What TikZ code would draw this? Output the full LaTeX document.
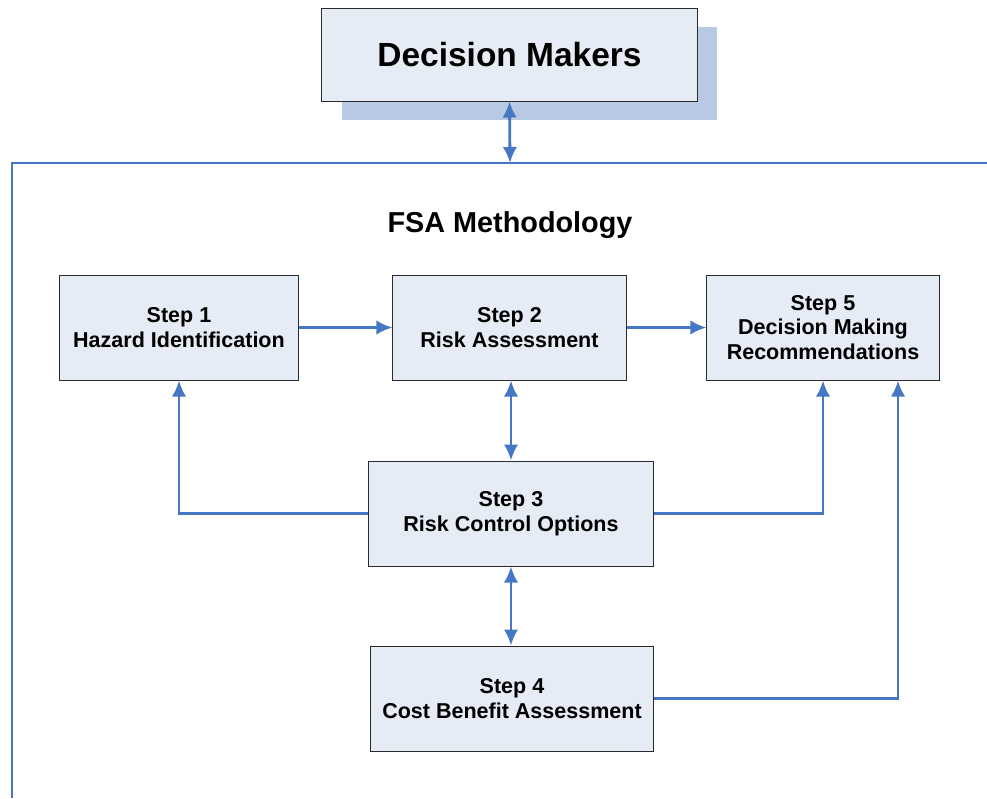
\documentclass[tikz,border=0pt]{standalone}
\usepackage{fontspec}
\setmainfont{Liberation Sans}
\usepackage{tikz}
\usetikzlibrary{arrows.meta}
\usetikzlibrary{shadows}
\definecolor{boxfill}{HTML}{E6ECF6}
\definecolor{shadowblue}{HTML}{B8C9E3}
\definecolor{linkblue}{HTML}{4677C4}
\definecolor{framedark}{HTML}{2A2A2A}
\tikzstyle{stepbox} = [rectangle, draw=framedark, line width=0.7pt, fill=boxfill,
    align=center, font=\fontsize{15.3}{17.5}\selectfont\bfseries, inner sep=0pt]
\tikzstyle{link} = [draw=linkblue, line width=2pt]
\tikzset{>={Latex[length=4mm,width=3.6mm]}}

\begin{document}
\begin{tikzpicture}[x=0.025cm,y=-0.025cm]
    \useasboundingbox (0,0) rectangle (987,798);
    %decision makers
    \node[stepbox, minimum width=9.375cm, minimum height=2.325cm,
        font=\fontsize{23.8}{28}\selectfont\bfseries,
        drop shadow={shadow xshift=0.5cm, shadow yshift=-0.475cm, fill=shadowblue, opacity=1}]
        (dm) at (509.5,54.5) {Decision Makers};
    %frame
    \coordinate (fl) at (12,798);
    \coordinate (ftl) at (12,163);
    \coordinate (ftr) at (987,163);
    \coordinate (ftop) at (510,163);
    \draw[draw=linkblue, line width=1.5pt] (fl) -- (ftl) -- (ftr);
    \node[font=\fontsize{20.5}{24}\selectfont\bfseries] (title) at (510,225) {FSA Methodology};
    %steps
    \node[stepbox, minimum width=5.95cm, minimum height=2.625cm] (s1) at (179,327.5) {Step 1\\Hazard Identification};
    \node[stepbox, minimum width=5.825cm, minimum height=2.625cm] (s2) at (509.5,327.5) {Step 2\\Risk Assessment};
    \node[stepbox, minimum width=5.8cm, minimum height=2.625cm] (s5) at (823,327.5) {Step 5\\Decision Making\\Recommendations};
    \node[stepbox, minimum width=7.1cm, minimum height=2.625cm] (s3) at (511,513.5) {Step 3\\Risk Control Options};
    \node[stepbox, minimum width=7.05cm, minimum height=2.625cm] (s4) at (512,698.5) {Step 4\\Cost Benefit Assessment};
    %links
    \draw[link, <->] (dm.south) -- (ftop);
    \draw[link, ->] (s1) -- (s2);
    \draw[link, ->] (s2) -- (s5);
    \draw[link, <->] (s2.south -| s3) -- (s3.north);
    \draw[link, <->] (s3.south) -- (s4.north -| s3);
    \draw[link, ->] (s3.west) -| (s1.south);
    \draw[link, ->] (s3.east) -| (s5.south);
    \draw[link, ->] (s4.east) -| ([xshift=1.875cm]s5.south);
\end{tikzpicture}
\end{document}
